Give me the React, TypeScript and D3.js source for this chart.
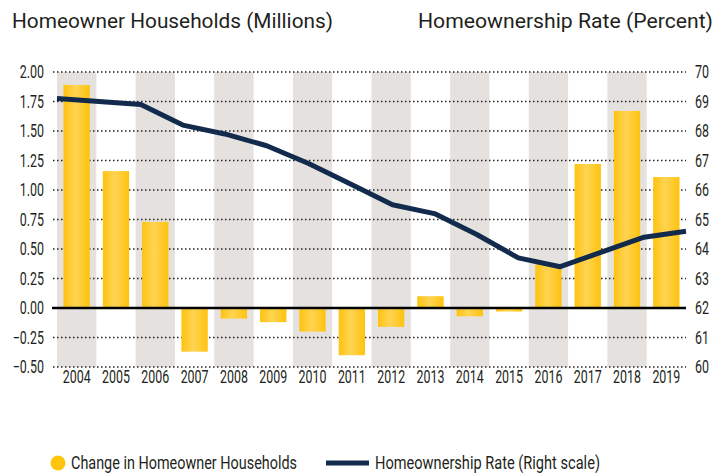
import React from "react";
import * as d3 from "d3";

const years = [
  "2004", "2005", "2006", "2007", "2008", "2009", "2010", "2011",
  "2012", "2013", "2014", "2015", "2016", "2017", "2018", "2019",
];
// change in homeowner households (millions)
const householdChange = [
  1.89, 1.16, 0.73, -0.37, -0.09, -0.12, -0.2, -0.4,
  -0.16, 0.1, -0.07, -0.03, 0.37, 1.22, 1.67, 1.11,
];
// homeownership rate (percent)
const ownershipRate = [
  69.1, 69.0, 68.9, 68.2, 67.9, 67.5, 66.9, 66.2,
  65.5, 65.2, 64.5, 63.7, 63.4, 63.9, 64.4, 64.6,
];
const leftTicks = [-0.5, -0.25, 0, 0.25, 0.5, 0.75, 1, 1.25, 1.5, 1.75, 2];
const rightTicks = [60, 61, 62, 63, 64, 65, 66, 67, 68, 69, 70];

const W = 725;
const H = 476;
const left = 57;
const right = 686;
const top = 72;
const bottom = 367;

const FONT = "Roboto, 'Liberation Sans', sans-serif";
const TEXT = "#231f20";
const GOLD = "#ffc40c";
const NAVY = "#122b4d";
const SQUEEZE = 0.69; // condensed look for the numbers

// small helper for horizontally condensed text
const Narrow: React.FC<{
  x: number;
  y: number;
  anchor?: "start" | "middle" | "end";
  children: React.ReactNode;
}> = ({ x, y, anchor = "start", children }) => (
  <text
    transform={`translate(${x},${y}) scale(${SQUEEZE},1)`}
    dy="0.35em"
    fontSize={18}
    fill={TEXT}
    textAnchor={anchor}
  >
    {children}
  </text>
);

const App: React.FC = () => {
  const xBand = d3.scaleBand<string>().domain(years).range([left, right]).padding(0);
  const xBar = d3
    .scaleBand<string>()
    .domain(years)
    .range([left, right])
    .paddingInner(0.33)
    .paddingOuter(0.165);
  const xLine = d3.scalePoint<string>().domain(years).range([left, right]);
  const yL = d3.scaleLinear().domain([-0.5, 2]).range([bottom, top]);
  const yR = d3.scaleLinear().domain([60, 70]).range([bottom, top]);

  const line = d3
    .line<number>()
    .x((_, i) => xLine(years[i])!)
    .y((d) => yR(d));

  return (
    <svg
      width={W}
      height={H}
      style={{ position: "absolute", left: 0, top: 0, background: "#fff" }}
      fontFamily={FONT}
    >
      <defs>
        <linearGradient id="gold" x1="0" x2="1" y1="0" y2="0">
          <stop offset="0" stopColor="#ffc20e" />
          <stop offset="0.45" stopColor="#ffd453" />
          <stop offset="1" stopColor="#ffc20e" />
        </linearGradient>
      </defs>

      {/* titles */}
      <text x={12} y={28} fontSize={20} fill={TEXT} textLength={321} lengthAdjust="spacingAndGlyphs">
        Homeowner Households (Millions)
      </text>
      <text x={418} y={28} fontSize={20} fill={TEXT} textLength={295} lengthAdjust="spacingAndGlyphs">
        Homeownership Rate (Percent)
      </text>

      {/* alternating shaded columns */}
      {years.map((y, i) =>
        i % 2 === 0 ? (
          <rect
            key={"band" + y}
            x={xBand(y)}
            y={top}
            width={xBand.bandwidth()}
            height={bottom - top}
            fill="#e5e1de"
          />
        ) : null
      )}

      {/* dotted grid */}
      {leftTicks
        .filter((t) => t !== 0)
        .map((t) => (
          <line
            key={"g" + t}
            x1={53}
            x2={right}
            y1={yL(t)}
            y2={yL(t)}
            stroke="#222"
            strokeWidth={1.5}
            strokeDasharray="1.5 2.5"
          />
        ))}

      {/* bars */}
      {householdChange.map((v, i) => (
        <rect
          key={"bar" + i}
          x={xBar(years[i])}
          y={yL(Math.max(0, v))}
          width={xBar.bandwidth()}
          height={Math.abs(yL(v) - yL(0))}
          fill="url(#gold)"
        />
      ))}

      {/* zero line */}
      <line x1={52} x2={right} y1={yL(0)} y2={yL(0)} stroke="#000" strokeWidth={2.5} />

      {/* rate line */}
      <path d={line(ownershipRate) || ""} fill="none" stroke={NAVY} strokeWidth={5} strokeLinejoin="round" />

      {/* left axis labels */}
      {leftTicks.map((t) => (
        <Narrow key={"l" + t} x={44} y={yL(t)} anchor="end">
          {d3.format(".2f")(t)}
        </Narrow>
      ))}

      {/* right axis labels */}
      {rightTicks.map((t) => (
        <Narrow key={"r" + t} x={695} y={yR(t)}>
          {t}
        </Narrow>
      ))}

      {/* year labels */}
      {years.map((y) => (
        <Narrow key={"x" + y} x={xBand(y)! + xBand.bandwidth() / 2} y={377} anchor="middle">
          {y}
        </Narrow>
      ))}

      {/* legend */}
      <circle cx={58} cy={463} r={7.5} fill={GOLD} />
      <text x={71} y={463} dy="0.35em" fontSize={18} fill={TEXT} textLength={226} lengthAdjust="spacingAndGlyphs">
        Change in Homeowner Households
      </text>
      <line x1={326} x2={369} y1={463} y2={463} stroke={NAVY} strokeWidth={5} />
      <text x={375} y={463} dy="0.35em" fontSize={18} fill={TEXT} textLength={225} lengthAdjust="spacingAndGlyphs">
        Homeownership Rate (Right scale)
      </text>
    </svg>
  );
};

export default App;
